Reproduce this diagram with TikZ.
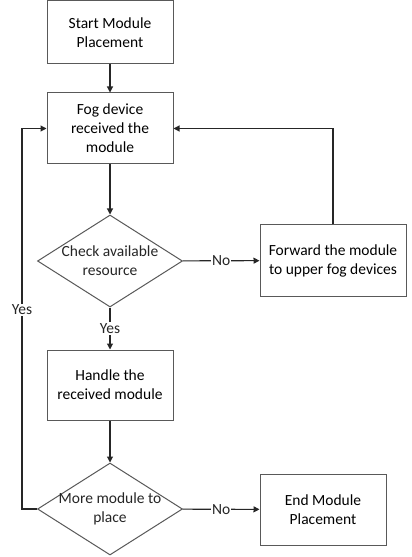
\documentclass[tikz,border=0pt]{standalone}
\usepackage{fontspec}
\setmainfont{Carlito}
\usetikzlibrary{shapes.geometric,arrows.meta}
\begin{document}
\begin{tikzpicture}[x=1bp,y=-1bp,
  font=\fontsize{15.5bp}{19bp}\selectfont,
  box/.style={draw=black!65,line width=1bp,rectangle,inner sep=0pt,align=center,fill=white},
  diam/.style={draw=black!65,line width=1bp,diamond,inner sep=0pt,minimum width=145bp,minimum height=92bp,fill=white},
  arr/.style={draw=black!85,line width=1.1bp,-{Triangle[length=6bp,width=6bp]}},
  lbl/.style={fill=white,inner sep=1bp,text=black!85}]
\useasboundingbox (0,0) rectangle (411,557);
\node[box,minimum width=126bp,minimum height=63bp] (start) at (110,32.5) {Start Module\\Placement};
\node[box,minimum width=126bp,minimum height=71bp] (fog) at (110,128.5) {Fog device\\received the\\module};
\node[diam,label={[align=center,text=black!85]center:Check available\\resource}] (d1) at (110,261) {};
\node[box,minimum width=146bp,minimum height=71bp] (fwd) at (333,260.5) {Forward the module\\to upper fog devices};
\node[box,minimum width=126bp,minimum height=70bp] (handle) at (110,385) {Handle the\\received module};
\node[diam,label={[align=center,text=black!85]center:More module to\\place}] (d2) at (110,509) {};
\node[box,minimum width=126bp,minimum height=71bp] (endn) at (323,509.5) {End Module\\Placement};
\draw[arr] (start) -- (fog);
\draw[arr] (fog) -- (d1);
\draw[arr] (d1) -- node[lbl]{No} (fwd);
\draw[arr] (fwd.north) |- (fog.east);
\draw[arr] (d1) -- node[lbl]{Yes} (handle);
\draw[arr] (handle) -- (d2);
\draw[arr] (d2) -- node[lbl]{No} (endn);
\draw[arr] (d2.west) -- ++(-15,0) |- node[lbl,pos=0.262]{Yes} (fog.west);
\end{tikzpicture}
\end{document}
